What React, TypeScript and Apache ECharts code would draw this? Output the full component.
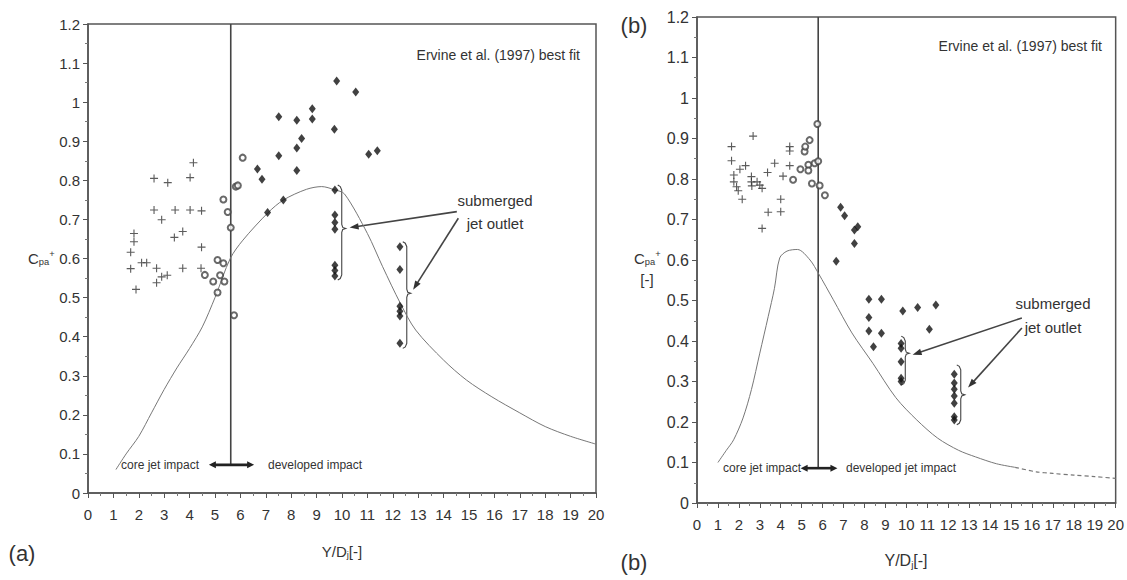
import React, { useEffect, useRef } from "react";
import * as echarts from "echarts";

const FONT = "'Liberation Sans Narrow', 'Liberation Sans', Arial, sans-serif";
const INK = "#333";

// ---------- Panel (a) ----------
const aPlus: [number, number][] = [
  [4.15, 0.845], [4.02, 0.807], [2.6, 0.805], [3.14, 0.794], [2.6, 0.724], [3.43, 0.724],
  [4.02, 0.724], [4.47, 0.722], [2.9, 0.699], [3.73, 0.669], [3.4, 0.654], [1.81, 0.664],
  [1.81, 0.643], [4.47, 0.629], [1.68, 0.616], [1.68, 0.574], [2.11, 0.589], [2.31, 0.589],
  [2.7, 0.575], [3.73, 0.575], [4.45, 0.575], [2.9, 0.553], [3.12, 0.557], [2.7, 0.538],
  [1.89, 0.521],
];
const aCircle: [number, number][] = [
  [6.09, 0.858], [5.82, 0.784], [5.9, 0.787], [5.33, 0.751], [5.5, 0.719], [5.62, 0.679],
  [5.1, 0.596], [5.33, 0.588], [4.6, 0.558], [5.2, 0.557], [4.93, 0.541], [5.37, 0.541],
  [5.1, 0.513], [5.75, 0.455],
];
const aDiamond: [number, number][] = [
  [9.79, 1.054], [10.54, 1.026], [8.83, 0.983], [8.83, 0.957], [7.51, 0.963], [8.22, 0.954],
  [9.7, 0.931], [8.41, 0.907], [8.22, 0.883], [7.51, 0.863], [11.05, 0.867], [11.39, 0.876],
  [6.67, 0.829], [6.85, 0.803], [8.22, 0.825], [7.69, 0.75], [7.07, 0.718], [9.72, 0.775],
  [9.72, 0.711], [9.72, 0.692], [9.72, 0.675], [9.72, 0.583], [9.72, 0.569], [9.72, 0.555],
  [12.28, 0.63], [12.28, 0.572], [12.28, 0.478], [12.28, 0.465], [12.28, 0.453], [12.28, 0.383],
];
const aFitX = [1.1, 1.5, 2, 2.5, 3, 3.5, 4, 4.5, 5, 5.6, 6.1, 7.1, 7.7, 8.6, 9.2, 9.7, 10.1, 11, 11.6, 12.3, 12.9, 14, 14.9, 15.9, 17, 18, 19, 20];
const aFitY = [0.06, 0.1, 0.145, 0.205, 0.265, 0.32, 0.37, 0.425, 0.5, 0.6, 0.647, 0.718, 0.75, 0.777, 0.784, 0.776, 0.765, 0.664, 0.579, 0.485, 0.417, 0.34, 0.289, 0.246, 0.205, 0.17, 0.145, 0.125];
// bracket: x, top, bottom, tip
const aBrackets: number[][] = [[9.99, 0.788, 0.545, 0.677], [12.55, 0.643, 0.37, 0.511]];
// arrow: x1, y1, x2, y2
const aArrows: number[][] = [[14.52, 0.72, 10.3, 0.679], [14.58, 0.703, 12.8, 0.52]];
// impact marker: line x, arrow y, arrow from x, arrow to x
const aImpact: number[][] = [[5.62, 0.072, 4.76, 6.54]];

// ---------- Panel (b) ----------
const bPlus: [number, number][] = [
  [1.65, 0.88], [1.65, 0.845], [1.76, 0.81], [1.76, 0.793], [1.89, 0.781], [1.97, 0.771],
  [2.16, 0.75], [2.05, 0.824], [2.32, 0.833], [2.68, 0.906], [2.6, 0.806], [2.6, 0.793],
  [2.62, 0.783], [2.87, 0.793], [3.0, 0.785], [3.11, 0.777], [3.11, 0.678], [3.4, 0.718],
  [3.37, 0.816], [3.71, 0.839], [4.0, 0.75], [4.0, 0.719], [4.11, 0.807], [4.43, 0.88],
  [4.43, 0.869], [4.43, 0.833],
];
const bCircle: [number, number][] = [
  [4.59, 0.798], [4.94, 0.824], [5.14, 0.868], [5.17, 0.88], [5.38, 0.896], [5.32, 0.835],
  [5.32, 0.821], [5.49, 0.789], [5.62, 0.839], [5.75, 0.936], [5.79, 0.844], [5.86, 0.784],
  [6.11, 0.76],
];
const bDiamond: [number, number][] = [
  [6.86, 0.73], [7.05, 0.709], [6.65, 0.597], [7.68, 0.682], [7.52, 0.674], [7.52, 0.641],
  [8.21, 0.503], [8.81, 0.503], [8.21, 0.458], [8.21, 0.425], [8.81, 0.419], [8.43, 0.386],
  [9.83, 0.474], [10.54, 0.483], [11.41, 0.489], [11.1, 0.429],
  [9.75, 0.394], [9.75, 0.382], [9.75, 0.349], [9.75, 0.308], [9.75, 0.3],
  [12.29, 0.318], [12.29, 0.296], [12.29, 0.281], [12.29, 0.264], [12.29, 0.246], [12.29, 0.213], [12.29, 0.205],
];
const bFitX = [1.0, 1.4, 1.75, 2.2, 2.6, 3.0, 3.4, 3.7, 3.95, 4.3, 4.8, 5.4, 5.8, 6.5, 7.4, 8.4, 9.5, 10.5, 11.5, 12.5, 13.3, 14.3, 15.2];
const bFitY = [0.1, 0.13, 0.156, 0.21, 0.28, 0.37, 0.46, 0.53, 0.605, 0.622, 0.626, 0.6, 0.567, 0.503, 0.42, 0.345, 0.26, 0.205, 0.16, 0.13, 0.114, 0.097, 0.088];
const bTailX = [15.2, 16.2, 17, 18, 19, 20];
const bTailY = [0.088, 0.077, 0.073, 0.069, 0.065, 0.061];
const bBrackets: number[][] = [[9.95, 0.412, 0.291, 0.37], [12.6, 0.341, 0.193, 0.267]];
const bArrows: number[][] = [[15.52, 0.457, 10.3, 0.366], [15.52, 0.432, 12.95, 0.285]];
const bImpact: number[][] = [[5.79, 0.086, 4.95, 6.71]];

const PLUS = "path://M4.3,0H5.7V4.3H10V5.7H5.7V10H4.3V5.7H0V4.3H4.3Z";

const zip = (xs: number[], ys: number[]) => xs.map((x, i) => [x, ys[i]]);

function arrowHead(p2: number[], ang: number, L: number, W: number) {
  const c = Math.cos(ang), s = Math.sin(ang);
  return [
    [p2[0], p2[1]],
    [p2[0] - L * c + W * s, p2[1] - L * s - W * c],
    [p2[0] - L * c - W * s, p2[1] - L * s + W * c],
  ];
}

function bracketRender(_p: any, api: any) {
  const x = api.value(0);
  const pT = api.coord([x, api.value(1)]);
  const pB = api.coord([x, api.value(2)]);
  const pM = api.coord([x, api.value(3)]);
  const x0 = pT[0];
  const w = 4;
  const pts = [
    [x0 - w, pT[1]], [x0 - 1.5, pT[1] + 1.5], [x0, pT[1] + 5],
    [x0, pM[1] - 4], [x0 + 1, pM[1] - 1], [x0 + w, pM[1]], [x0 + 1, pM[1] + 1], [x0, pM[1] + 4],
    [x0, pB[1] - 5], [x0 - 1.5, pB[1] - 1.5], [x0 - w, pB[1]],
  ];
  return { type: "polyline", shape: { points: pts }, style: { stroke: "#444", fill: "none", lineWidth: 1.1 } };
}

function arrowRender(_p: any, api: any) {
  const p1 = api.coord([api.value(0), api.value(1)]);
  const p2 = api.coord([api.value(2), api.value(3)]);
  const ang = Math.atan2(p2[1] - p1[1], p2[0] - p1[0]);
  return {
    type: "group",
    children: [
      { type: "line", shape: { x1: p1[0], y1: p1[1], x2: p2[0] - 6 * Math.cos(ang), y2: p2[1] - 6 * Math.sin(ang) }, style: { stroke: "#444", lineWidth: 1.6 } },
      { type: "polygon", shape: { points: arrowHead(p2, ang, 9, 3.2) }, style: { fill: "#333" } },
    ],
  };
}

function impactRender(_p: any, api: any) {
  const xl = api.value(0), ya = api.value(1);
  const top = api.coord([xl, 1.2]);
  const bot = api.coord([xl, ya]);
  const a1 = api.coord([api.value(2), ya]);
  const a2 = api.coord([api.value(3), ya]);
  return {
    type: "group",
    children: [
      { type: "line", shape: { x1: top[0], y1: top[1], x2: bot[0], y2: bot[1] }, style: { stroke: "#444", lineWidth: 1.6 } },
      { type: "line", shape: { x1: a1[0] + 5, y1: a1[1], x2: a2[0] - 5, y2: a2[1] }, style: { stroke: "#222", lineWidth: 2.6 } },
      { type: "polygon", shape: { points: arrowHead(a2, 0, 7, 3.5) }, style: { fill: "#222" } },
      { type: "polygon", shape: { points: arrowHead(a1, Math.PI, 7, 3.5) }, style: { fill: "#222" } },
    ],
  };
}

function makeAxes(gi: number, fsX: number, fsY: number, yMargin: number, xMargin: number) {
  const common = {
    gridIndex: gi,
    type: "value" as const,
    min: 0,
    axisLine: { show: true, lineStyle: { color: "#555", width: 1.5 } },
    axisTick: { show: true, length: 5, lineStyle: { color: "#555", width: 1 } },
    minorTick: { show: true, splitNumber: 2, length: 3, lineStyle: { color: "#777" } },
    splitLine: { show: false },
  };
  return {
    x: { ...common, max: 20, interval: 1, axisLabel: { fontFamily: FONT, fontSize: fsX, color: INK, margin: xMargin, hideOverlap: false } },
    y: { ...common, max: 1.2, interval: 0.1, axisLabel: { fontFamily: FONT, fontSize: fsY, color: INK, margin: yMargin } },
  };
}

function scatter(name: string, data: any, gi: number, kind: "plus" | "circle" | "diamond") {
  const base: any = { type: "scatter", name, data, xAxisIndex: gi, yAxisIndex: gi, z: 5 };
  if (kind === "plus") return { ...base, symbol: PLUS, symbolSize: 8, itemStyle: { color: "#333" } };
  if (kind === "circle") return { ...base, symbol: "emptyCircle", symbolSize: 6, itemStyle: { color: "#444", borderColor: "#444", borderWidth: 1 } };
  return { ...base, symbol: "diamond", symbolSize: [7, 9], itemStyle: { color: "#111" } };
}

function txt(x: number, y: number, text: string, fontSize: number, align = "left", extra: any = {}) {
  return {
    type: "text", x, y,
    style: { text, fontFamily: FONT, fontSize, fill: INK, align, verticalAlign: "middle", ...extra },
  };
}

export default function App() {
  const ref = useRef<HTMLDivElement>(null);
  useEffect(() => {
    if (!ref.current) return;
    const chart = echarts.init(ref.current, undefined, { renderer: "svg" });
    const A = makeAxes(0, 15, 15, 8, 14);
    const B = makeAxes(1, 15, 16, 8, 14);
    const richC = (fs: number) => ({
      c: { fontFamily: FONT, fontSize: fs, fill: INK },
      s: { fontFamily: FONT, fontSize: fs * 0.62, fill: INK, padding: [fs * 0.55, 0, 0, 0] },
      p: { fontFamily: FONT, fontSize: fs * 0.62, fill: INK, padding: [0, 0, fs * 0.6, 0] },
    });
    chart.setOption({
      animation: false,
      grid: [
        { left: 88, top: 24, width: 508, height: 469, show: true, borderColor: "#555", borderWidth: 1.5, backgroundColor: "transparent" },
        { left: 697, top: 17, width: 420, height: 486, show: true, borderColor: "#555", borderWidth: 1.5, backgroundColor: "transparent" },
      ],
      xAxis: [A.x, B.x],
      yAxis: [A.y, B.y],
      series: [
        { type: "line", name: "fit a", data: zip(aFitX, aFitY), xAxisIndex: 0, yAxisIndex: 0, smooth: 0.3, showSymbol: false, lineStyle: { color: "#777", width: 1 } },
        { type: "custom", name: "impact a", data: aImpact, xAxisIndex: 0, yAxisIndex: 0, renderItem: impactRender, encode: { x: 0, y: 1 }, z: 3 },
        scatter("plus a", aPlus, 0, "plus"),
        scatter("circle a", aCircle, 0, "circle"),
        scatter("diamond a", aDiamond, 0, "diamond"),
        { type: "custom", name: "brackets a", data: aBrackets, xAxisIndex: 0, yAxisIndex: 0, renderItem: bracketRender, encode: { x: 0, y: 1 } },
        { type: "custom", name: "arrows a", data: aArrows, xAxisIndex: 0, yAxisIndex: 0, renderItem: arrowRender, encode: { x: 0, y: 1 } },

        { type: "line", name: "fit b", data: zip(bFitX, bFitY), xAxisIndex: 1, yAxisIndex: 1, smooth: 0.3, showSymbol: false, lineStyle: { color: "#777", width: 1 } },
        { type: "line", name: "fit b tail", data: zip(bTailX, bTailY), xAxisIndex: 1, yAxisIndex: 1, smooth: 0.3, showSymbol: false, lineStyle: { color: "#777", width: 1.2, type: [4, 3] } },
        { type: "custom", name: "impact b", data: bImpact, xAxisIndex: 1, yAxisIndex: 1, renderItem: impactRender, encode: { x: 0, y: 1 }, z: 3 },
        scatter("plus b", bPlus, 1, "plus"),
        scatter("circle b", bCircle, 1, "circle"),
        scatter("diamond b", bDiamond, 1, "diamond"),
        { type: "custom", name: "brackets b", data: bBrackets, xAxisIndex: 1, yAxisIndex: 1, renderItem: bracketRender, encode: { x: 0, y: 1 } },
        { type: "custom", name: "arrows b", data: bArrows, xAxisIndex: 1, yAxisIndex: 1, renderItem: arrowRender, encode: { x: 0, y: 1 } },
      ],
      graphic: [
        txt(580, 55, "Ervine et al. (1997) best fit", 14, "right"),
        txt(495, 200, "submerged", 15, "center"),
        txt(495, 223, "jet outlet", 15, "center"),
        txt(121, 465, "core jet impact", 12),
        txt(268, 465, "developed impact", 12),
        txt(22, 553, "(a)", 22, "center"),
        { type: "text", x: 28, y: 258, style: { text: "{c|C}{s|pa}{p|+}", rich: richC(15), verticalAlign: "middle" } },
        { type: "text", x: 342, y: 551, style: { text: "{c|Y/D}{s|j}{c|[-]}", rich: richC(15), align: "center", verticalAlign: "middle" } },

        txt(1102, 46, "Ervine et al. (1997) best fit", 14, "right"),
        txt(1053, 303, "submerged", 15, "center"),
        txt(1053, 327, "jet outlet", 15, "center"),
        txt(723, 468, "core jet impact", 12),
        txt(846, 468, "developed jet impact", 12),
        txt(634, 25, "(b)", 22, "center"),
        txt(634, 562, "(b)", 22, "center"),
        { type: "text", x: 634, y: 258, style: { text: "{c|C}{s|pa}{p|+}", rich: richC(15), verticalAlign: "middle" } },
        txt(647, 279, "[-]", 15, "center"),
        { type: "text", x: 906, y: 560, style: { text: "{c|Y/D}{s|j}{c|[-]}", rich: richC(16), align: "center", verticalAlign: "middle" } },
      ],
    });
    return () => chart.dispose();
  }, []);
  return <div ref={ref} style={{ width: 1127, height: 580, position: "absolute", left: 0, top: 0, background: "#fff" }} />;
}
